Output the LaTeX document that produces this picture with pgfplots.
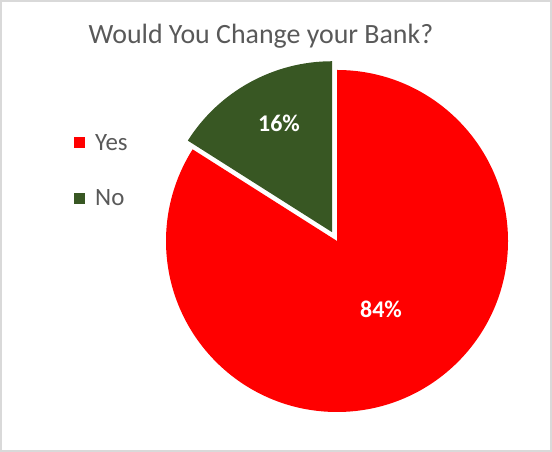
\documentclass[border=0pt]{standalone}
\usepackage{pgfplots}
\pgfplotsset{compat=1.18}
\usepackage{fontspec}
\setmainfont{Carlito}
\definecolor{slicered}{HTML}{FF0000}
\definecolor{slicegreen}{HTML}{385723}
\definecolor{txtgray}{HTML}{595959}
\definecolor{framegray}{HTML}{D9D9D9}

% pie values (percent) and geometry in pixel units
\def\yes{84}
\def\no{16}
\def\cx{337}\def\cy{211}
\def\rad{171bp}

\begin{document}
\begin{tikzpicture}
\begin{axis}[
  x=1bp, y=1bp, scale only axis,
  xmin=0, xmax=552, ymin=0, ymax=452,
  hide axis, clip=false,
  legend style={at={(axis cs:74,320)}, anchor=north west, draw=none, fill=none,
    font=\fontsize{25}{28}\selectfont\color{txtgray}, row sep=34bp,
    inner sep=0pt},
  legend cell align=left,
  legend image code/.code={\fill (0bp,-5.5bp) rectangle (11bp,5.5bp);
    \path (19bp,0bp);},
]
% frame
\draw[framegray, line width=2bp] (axis cs:1,1) rectangle (axis cs:551,451);

% Yes slice: clockwise from 12 o'clock
\fill[slicered] (axis cs:\cx,\cy) -- ++(90:\rad)
  arc[start angle=90, end angle={90-3.6*\yes}, radius=\rad] -- cycle;
% No slice, exploded along its bisector
\pgfmathsetmacro{\mid}{90+1.8*\no}
\fill[slicegreen, shift={(\mid:10bp)}] (axis cs:\cx,\cy) -- ++({90+3.6*\no}:\rad)
  arc[start angle={90+3.6*\no}, end angle=90, radius=\rad] -- cycle;

\node[white, font=\fontsize{24}{28}\selectfont\bfseries] at (axis cs:279,329) {16\%};
\node[white, font=\fontsize{24}{28}\selectfont\bfseries] at (axis cs:381,143) {84\%};

\node[txtgray, font=\fontsize{28}{32}\selectfont, anchor=base] at (axis cs:261,408)
  {Would You Change your Bank?};

\addlegendimage{slicered, fill=slicered, draw=none}
\addlegendentry{Yes}
\addlegendimage{slicegreen, fill=slicegreen, draw=none}
\addlegendentry{No}
\end{axis}
\end{tikzpicture}
\end{document}
